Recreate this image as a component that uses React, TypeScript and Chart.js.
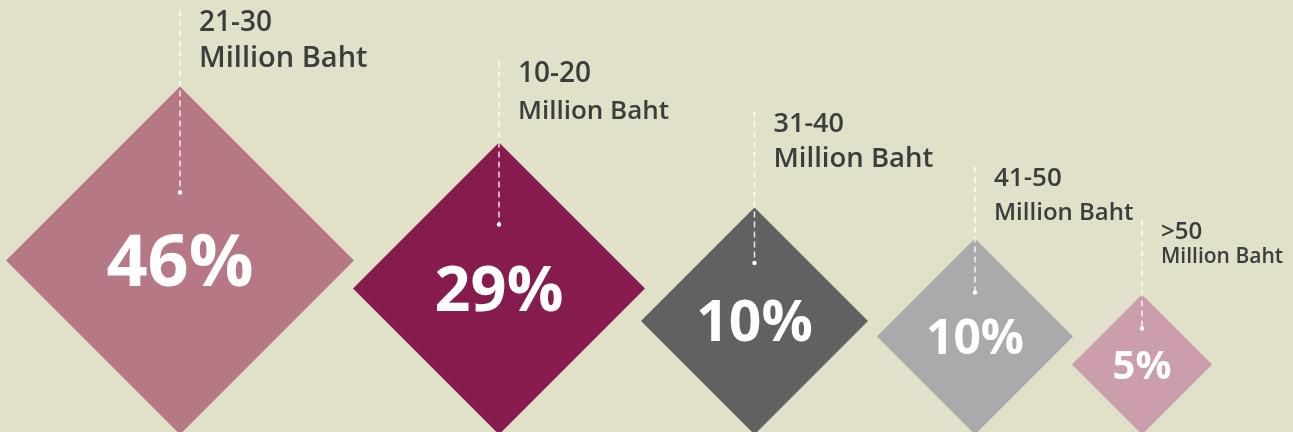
import React, { useEffect, useRef } from "react";
import { Chart, registerables } from "chart.js";

Chart.register(...registerables);

// ---- data ----
const categories = ["21-30", "10-20", "31-40", "41-50", ">50"];
const unitLabel = "Million Baht";
const shares = [46, 29, 10, 10, 5];

// ---- styles ----
const WIDTH = 1293;
const HEIGHT = 432;
const bgColor = "#e1e0c8";
const diamondColors = ["#b57884", "#861b4e", "#606260", "#aaaaaa", "#cc9eab"];
const diamondRadius = [174, 146, 113.5, 98, 70];
const diamondGaps = [-1, -4, 9, -1];
const leftMargin = 6;
const bottomSink = 2.5;
const pctFontSize = [72, 63, 57, 48, 40];
const labelTopAboveDiamond = [75, 80, 95, 71, 73];
const labelLine1Size = [28, 28, 27, 26, 24];
const labelLine2Size = [29, 26, 27.5, 24, 21];
const labelLineGap = [35, 38, 35, 35, 27];
const dotOffset = [68, 64, 58, 44, 36];
const labelDx = 19;
const FONT = "'Open Sans', 'Noto Sans', sans-serif";

function layoutX(): number[] {
  const xs: number[] = [];
  let prevRight = leftMargin;
  diamondRadius.forEach((r, i) => {
    const gap = i === 0 ? 0 : diamondGaps[i - 1];
    const cx = prevRight + gap + r;
    xs.push(cx);
    prevRight = cx + r;
  });
  return xs;
}

const annotatePlugin = {
  id: "diamondLabels",
  afterDatasetsDraw(chart: any) {
    const ctx = chart.ctx as CanvasRenderingContext2D;
    const meta = chart.getDatasetMeta(0);
    meta.data.forEach((el: any, i: number) => {
      const { x, y } = el;
      const r = diamondRadius[i];
      const top = y - r;
      const capTop = top - labelTopAboveDiamond[i];
      const dotY = y - dotOffset[i];

      // dashed line
      ctx.save();
      ctx.strokeStyle = "rgba(255,255,255,0.85)";
      ctx.lineWidth = 1.5;
      ctx.setLineDash([6, 4]);
      ctx.beginPath();
      ctx.moveTo(x, capTop - 1);
      ctx.lineTo(x, dotY);
      ctx.stroke();
      ctx.setLineDash([]);
      ctx.fillStyle = "#ffffff";
      ctx.beginPath();
      ctx.arc(x, dotY, 2.2, 0, Math.PI * 2);
      ctx.fill();

      // percentage
      const ps = pctFontSize[i];
      ctx.fillStyle = "#ffffff";
      ctx.font = `700 ${ps}px ${FONT}`;
      ctx.textAlign = "center";
      ctx.textBaseline = "alphabetic";
      ctx.fillText(`${shares[i]}%`, x, y + ps * 0.357);

      // category label
      ctx.fillStyle = "#3d3d3d";
      ctx.textAlign = "left";
      const s1 = labelLine1Size[i];
      ctx.font = `600 ${s1}px ${FONT}`;
      ctx.fillText(categories[i], x + labelDx, capTop + s1 * 0.714);
      const s2 = labelLine2Size[i];
      ctx.font = `600 ${s2}px ${FONT}`;
      ctx.fillText(unitLabel, x + labelDx, capTop + labelLineGap[i] + s2 * 0.714);
      ctx.restore();
    });
  },
};

export default function App() {
  const canvasRef = useRef<HTMLCanvasElement | null>(null);

  useEffect(() => {
    if (!canvasRef.current) return;
    const xs = layoutX();
    const points = shares.map((_, i) => ({ x: xs[i], y: diamondRadius[i] - bottomSink }));
    const chart = new Chart(canvasRef.current, {
      type: "scatter",
      data: {
        labels: categories,
        datasets: [
          {
            data: points,
            pointStyle: "rectRot",
            pointRadius: diamondRadius,
            pointHoverRadius: diamondRadius,
            backgroundColor: diamondColors,
            borderWidth: 0,
            pointBorderWidth: 0,
            clip: false,
          } as any,
        ],
      },
      options: {
        responsive: false,
        maintainAspectRatio: false,
        animation: false,
        events: [],
        layout: { padding: 0, autoPadding: false },
        plugins: { legend: { display: false }, tooltip: { enabled: false } },
        scales: {
          x: { type: "linear", min: 0, max: WIDTH, display: false },
          y: { type: "linear", min: 0, max: HEIGHT, display: false },
        },
      },
      plugins: [annotatePlugin],
    });
    return () => chart.destroy();
  }, []);

  return (
    <div
      style={{
        position: "fixed",
        left: 0,
        top: 0,
        width: WIDTH,
        height: HEIGHT,
        background: bgColor,
        overflow: "hidden",
      }}
    >
      <canvas ref={canvasRef} width={WIDTH} height={HEIGHT} style={{ display: "block" }} />
    </div>
  );
}
